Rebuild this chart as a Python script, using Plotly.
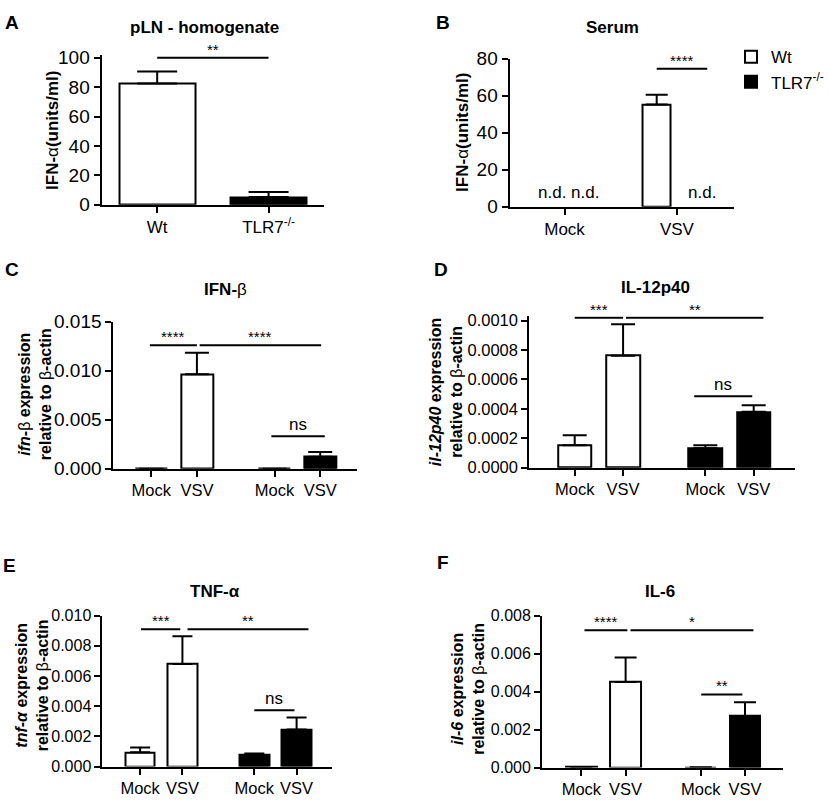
import plotly.graph_objects as go

W, H = 829, 800
FONT = "Liberation Sans, Arial, sans-serif"

# ---------------- data ----------------
# A: pLN homogenate, IFN-alpha (units/ml)
a_groups = ["Wt", "TLR7<sup>-/-</sup>"]
a_mean = [82.4, 5.2]
a_sem = [8.2, 3.4]

# B: serum IFN-alpha (units/ml), None = not detected
b_groups = ["Mock", "VSV"]
b_wt_mean = [None, 55.3]
b_wt_sem = [0, 5.2]
b_ko_mean = [None, None]

# C-F: expression relative to beta-actin (Mock, VSV)
treat = ["Mock", "VSV"]
c_wt_mean = [0.0, 0.00964]
c_wt_sem = [0.0, 0.00218]
c_ko_mean = [0.0, 0.00122]
c_ko_sem = [0.0, 0.00047]

d_wt_mean = [0.000152, 0.000762]
d_wt_sem = [0.000068, 0.000213]
d_ko_mean = [0.000132, 0.00038]
d_ko_sem = [0.00002, 0.000044]

e_wt_mean = [0.00095, 0.00679]
e_wt_sem = [0.00032, 0.00184]
e_ko_mean = [0.00082, 0.00245]
e_ko_sem = [0.00004, 0.0008]

f_wt_mean = [0.00003, 0.00451]
f_wt_sem = [0.0, 0.00129]
f_ko_mean = [0.00002, 0.00272]
f_ko_sem = [0.0, 0.00072]

# significance brackets: (x0, x1, y, label)
a_sig = [(0, 1, 100, "**")]
b_sig = [(0.82, 1.27, 74.5, "****")]
c_sig = [(-0.03, 1.0, 0.0126, "****"), (1.06, 3.72, 0.0126, "****"), (2.63, 3.8, 0.0033, "ns")]
d_sig = [(0.0, 1.0, 0.00102, "***"), (1.06, 3.9, 0.00102, "**"), (2.47, 3.67, 0.000485, "ns")]
e_sig = [(0.02, 0.95, 0.0091, "***"), (1.12, 3.98, 0.0091, "**"), (2.7, 3.65, 0.00374, "ns")]
f_sig = [(0.07, 1.04, 0.00723, "****"), (1.11, 3.89, 0.00723, "*"), (2.71, 3.64, 0.00385, "**")]

# ---------------- layout helpers ----------------
def xd(left, right):
    return [left / W, right / W]

def yd(top, bottom):
    return [1 - bottom / H, 1 - top / H]

KO_SHIFT = 2.7          # position of TLR7 group in C-F
B_OFF = (-0.18, 0.2)    # wt / ko offsets in B

fig = go.Figure()

def bar(xs, ys, sem, fill, width, ax, cap, name=None, legend=False):
    fig.add_trace(go.Bar(
        x=xs, y=ys, width=width, name=name, showlegend=legend,
        marker=dict(color=fill, line=dict(color="black", width=2)),
        error_y=dict(type="data", array=sem, arrayminus=[0] * len(sem), symmetric=False,
                     color="black", thickness=2, width=cap),
        xaxis="x" + ax, yaxis="y" + ax, legendgroup=name))

# A
bar([0, 1], a_mean, a_sem, ["white", "black"], 0.68, "", 20)
# B
bar([i + B_OFF[0] for i in range(2)], b_wt_mean, b_wt_sem, "white", 0.25, "2", 11)
# C-F
panels = [("3", c_wt_mean, c_wt_sem, c_ko_mean, c_ko_sem, 12),
          ("4", d_wt_mean, d_wt_sem, d_ko_mean, d_ko_sem, 12),
          ("5", e_wt_mean, e_wt_sem, e_ko_mean, e_ko_sem, 10),
          ("6", f_wt_mean, f_wt_sem, f_ko_mean, f_ko_sem, 11)]
for ax, wm, ws, km, ks, cap in panels:
    first = ax == "3"
    bar([0, 1], wm, ws, "white", 0.7, ax, cap, "Wt", first)
    bar([KO_SHIFT, KO_SHIFT + 1], km, ks, "black", 0.7, ax, cap, "TLR7<sup>-/-</sup>", first)

# axes
base = dict(showline=True, linecolor="black", linewidth=2, ticks="outside", ticklen=6,
            tickwidth=2, tickcolor="black", showgrid=False, zeroline=False, fixedrange=True)

cd_vals = [0, 1, KO_SHIFT, KO_SHIFT + 1]
cd_text = treat * 2

axes = {
    "": dict(x=xd(103, 329), xr=[-0.5, 1.5], tv=[0, 1], tt=a_groups, xf=17,
             y=yd(46.7, 200), yr=[0, 101.5], dt=20, fmt="d", yf=19),
    "2": dict(x=xd(517, 745), xr=[-0.49, 1.51], tv=[0, 1], tt=b_groups, xf=17,
              y=yd(50, 202), yr=[0, 80], dt=20, fmt="d", yf=19),
    "3": dict(x=xd(115, 362), xr=[-0.83, 4.5], tv=cd_vals, tt=cd_text, xf=16.5,
              y=yd(320, 471), yr=[0, 0.015], dt=0.005, fmt=".3f", yf=19),
    "4": dict(x=xd(537, 807), xr=[-0.94, 4.56], tv=cd_vals, tt=cd_text, xf=16.5,
              y=yd(314.5, 470), yr=[0, 0.00103], dt=0.0002, fmt=".4f", yf=16.5),
    "5": dict(x=xd(104, 337), xr=[-0.89, 4.54], tv=cd_vals, tt=cd_text, xf=16.5,
              y=yd(622, 777), yr=[0, 0.010], dt=0.002, fmt=".3f", yf=16),
    "6": dict(x=xd(550, 795), xr=[-0.89, 4.57], tv=cd_vals, tt=cd_text, xf=16.5,
              y=yd(622, 778), yr=[0, 0.008], dt=0.002, fmt=".3f", yf=16),
}
lay = {}
for ax, a in axes.items():
    lay["xaxis" + ax] = dict(base, domain=a["x"], range=a["xr"], tickvals=a["tv"],
                             ticktext=a["tt"], anchor="y" + ax,
                             tickfont=dict(size=a["xf"], color="black"))
    lay["yaxis" + ax] = dict(base, domain=a["y"], range=a["yr"], dtick=a["dt"],
                             tick0=0, tickformat=a["fmt"], anchor="x" + ax,
                             tickfont=dict(size=a["yf"], color="black"))

shapes, annos = [], []
for ax, sigs in [("", a_sig), ("2", b_sig), ("3", c_sig), ("4", d_sig), ("5", e_sig), ("6", f_sig)]:
    for x0, x1, y, lab in sigs:
        shapes.append(dict(type="line", xref="x" + ax, yref="y" + ax, x0=x0, x1=x1, y0=y, y1=y,
                           line=dict(color="black", width=2)))
        star = lab != "ns"
        annos.append(dict(xref="x" + ax, yref="y" + ax, x=(x0 + x1) / 2, y=y, text=lab,
                          showarrow=False, yanchor="bottom", yshift=-2 if star else 0,
                          font=dict(size=15 if star else 17, color="black")))

# n.d. labels in B
for x in [0 + B_OFF[0] + 0.07, 0 + B_OFF[1] - 0.02, 1 + B_OFF[1] + 0.02]:
    annos.append(dict(xref="x2", yref="y2", x=x, y=0, text="n.d.", showarrow=False,
                      yanchor="bottom", yshift=3, font=dict(size=17, color="black")))

def text(x, y, s, size=17, angle=0):
    annos.append(dict(xref="paper", yref="paper", x=x / W, y=1 - y / H, text=s,
                      showarrow=False, xanchor="center", yanchor="middle", textangle=angle,
                      font=dict(size=size, color="black")))

# panel letters
for lab, x, y in [("A", 12, 13), ("B", 450, 13), ("C", 12, 266), ("D", 447, 266),
                  ("E", 10, 570), ("F", 449, 567)]:
    text(x, y, "<b>%s</b>" % lab, 19)

# panel titles
text(207, 18, "<b>pLN - homogenate</b>")
text(621, 18, "<b>Serum</b>")
text(229, 287, "<b>IFN-</b>β")
text(665, 285, "<b>IL-12p40</b>")
text(218, 597, "<b>TNF-α</b>")
text(670, 597, "<b>IL-6</b>")

# y-axis titles
text(54, 124, "<b>IFN-</b>α<b>(units/ml)</b>", angle=-90)
text(469, 126, "<b>IFN-</b>α<b>(units/ml)</b>", angle=-90)
text(35, 394, "<b><i>ifn</i>-</b>β<b> expression</b><br><b>relative to </b>β<b>-actin</b>", 16, -90)
text(452, 392, "<b><i>il-12p40</i> expression</b><br><b>relative to </b>β<b>-actin</b>", 16, -90)
text(32, 694, "<b><i>tnf-α</i> expression</b><br><b>relative to </b>β<b>-actin</b>", 16, -90)
text(475, 697, "<b><i>il-6</i> expression</b><br><b>relative to </b>β<b>-actin</b>", 16, -90)

fig.update_layout(
    width=W, height=H, margin=dict(l=0, r=0, t=0, b=0),
    paper_bgcolor="white", plot_bgcolor="white",
    font=dict(family=FONT, color="black"),
    barmode="overlay", bargap=0,
    shapes=shapes, annotations=annos,
    legend=dict(x=742 / W, y=1 - 30 / H, xanchor="left", yanchor="top",
                font=dict(size=17), itemwidth=30, bgcolor="rgba(0,0,0,0)",
                tracegroupgap=0),
    **lay)

fig.write_html("out.html", config={"displayModeBar": False},
               post_script="document.body.style.margin='0';document.body.style.overflow='hidden';")
